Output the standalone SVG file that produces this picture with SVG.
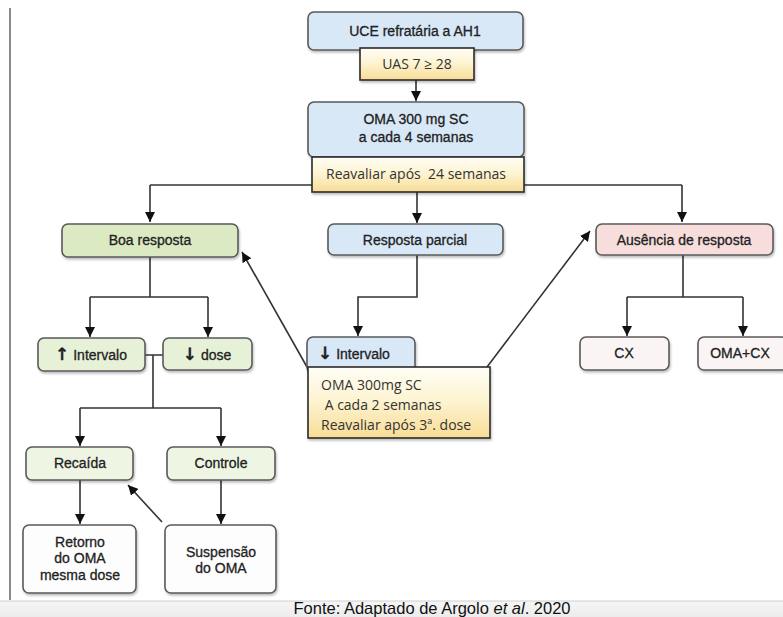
<svg xmlns="http://www.w3.org/2000/svg" width="783" height="617" viewBox="0 0 783 617">
<defs>
<marker id="ah" viewBox="0 0 10 10" refX="10" refY="5" markerWidth="10" markerHeight="10" markerUnits="userSpaceOnUse" orient="auto">
<path d="M0,0 L10,5 L0,10 z" fill="#111"/>
</marker>
<linearGradient id="yel" x1="0" y1="0" x2="0" y2="1">
<stop offset="0" stop-color="#fffef6"/>
<stop offset="0.5" stop-color="#fdf3cf"/>
<stop offset="1" stop-color="#f8dc95"/>
</linearGradient>
<linearGradient id="band" x1="0" y1="0" x2="0" y2="1">
<stop offset="0" stop-color="#f6f6f6"/>
<stop offset="1" stop-color="#ececec"/>
</linearGradient>
<filter id="sh" x="-10%" y="-10%" width="130%" height="140%">
<feDropShadow dx="1" dy="2" stdDeviation="1.2" flood-color="#000" flood-opacity="0.25"/>
</filter>
</defs>
<style>
.box{stroke:#5a5a5a;stroke-width:1.6;filter:url(#sh)}
.blue{fill:#d8e8f7}
.green{fill:#dbeac2}
.lgreen{fill:#e7f1d8}
.llgreen{fill:#eef5e3}
.pink{fill:#f7dedd}
.lpink{fill:#fbf4f4}
.white{fill:#fdfdfd}
.yb{fill:url(#yel);stroke:#2a2a2a;stroke-width:1.6;filter:url(#sh)}
.t{font-family:"Liberation Sans",Arial,sans-serif;font-size:14px;fill:#222;stroke:#222;stroke-width:0.3}
.m{text-anchor:middle}
.ar{font-family:"DejaVu Sans",sans-serif;font-size:17px;font-weight:bold}
.o{font-family:"Open Sans","Noto Sans",sans-serif;font-size:14px;fill:#333}
.c{stroke:#333;stroke-width:1.6;fill:none}
.a{marker-end:url(#ah)}
</style>
<rect x="0" y="0" width="783" height="617" fill="#ffffff"/>
<rect x="0" y="601" width="783" height="16" fill="url(#band)"/>
<line x1="0" y1="601" x2="783" y2="601" stroke="#d0d0d0" stroke-width="1"/>
<line x1="10" y1="8" x2="10" y2="600" stroke="#8a8a8a" stroke-width="2"/>
<text x="432" y="614" font-family="'Liberation Sans',Arial,sans-serif" font-size="16.5" fill="#111" text-anchor="middle">Fonte: Adaptado de Argolo <tspan font-style="italic">et al</tspan>. 2020</text>

<g id="connectors">
<path class="c a" d="M416 80 V101"/>
<path class="c" d="M150 185 H682"/>
<path class="c a" d="M150 185 V222"/>
<path class="c a" d="M682 185 V222"/>
<path class="c a" d="M417 192 V223"/>
<path class="c" d="M150 257 V297 M90 297 H208"/>
<path class="c a" d="M90 297 V337"/>
<path class="c a" d="M208 297 V337"/>
<path class="c a" d="M417 255 V297 H358 V336"/>
<path class="c" d="M683 255 V297 M627 297 H743"/>
<path class="c a" d="M627 297 V336"/>
<path class="c a" d="M743 297 V336"/>
<path class="c" d="M145 355 H163 M153 355 V408 M80 408 H221"/>
<path class="c a" d="M80 408 V446"/>
<path class="c a" d="M221 408 V446"/>
<path class="c a" d="M80 480 V524"/>
<path class="c a" d="M221 480 V524"/>
<path class="c a" d="M307 367 L242 252"/>
<path class="c a" d="M487 367 L590 231"/>
<path class="c a" d="M162 522 L128 485"/>
</g>

<g id="uce"><rect class="box blue" x="308" y="12" width="215" height="38" rx="6"/><text class="t m" x="415" y="36">UCE refratária a AH1</text></g>
<g id="uas"><rect class="yb" x="360" y="48" width="114" height="32"/><text class="o" x="417" y="69" text-anchor="middle">UAS 7 ≥ 28</text></g>
<g id="oma4"><rect class="box blue" x="308" y="102" width="216" height="55" rx="6"/><text class="t m" x="416" y="124">OMA 300 mg SC</text><text class="t m" x="416" y="142">a cada 4 semanas</text></g>
<g id="reav24"><rect class="yb" x="312" y="157" width="212" height="35"/><text class="o" x="416" y="179" text-anchor="middle" xml:space="preserve">Reavaliar após  24 semanas</text></g>

<g id="boa"><rect class="box green" x="62" y="224" width="176" height="33" rx="6"/><text class="t m" x="150" y="245">Boa resposta</text></g>
<g id="parcial"><rect class="box blue" x="328" y="224" width="175" height="31" rx="6"/><text class="t m" x="415" y="245">Resposta parcial</text></g>
<g id="ausencia"><rect class="box pink" x="596" y="224" width="177" height="31" rx="6"/><text class="t m" x="684" y="245">Ausência de resposta</text></g>

<g id="intervalo-up"><rect class="box lgreen" x="38" y="338" width="107" height="33" rx="6"/><text class="t m" x="91" y="360"><tspan class="ar">↑</tspan> Intervalo</text></g>
<g id="dose-down"><rect class="box lgreen" x="163" y="338" width="89" height="32" rx="6"/><text class="t m" x="207" y="360"><tspan class="ar">↓</tspan> dose</text></g>

<g id="intervalo-down"><rect class="box blue" x="307" y="337" width="108" height="36" rx="6"/><text class="t" x="318" y="359"><tspan class="ar">↓</tspan> Intervalo</text></g>
<g id="oma2"><rect class="yb" x="308" y="367" width="182" height="71"/>
<text class="o" x="321" y="390">OMA 300mg SC</text>
<text class="o" x="321" y="410" xml:space="preserve"> A cada 2 semanas</text>
<text class="o" x="321" y="430">Reavaliar após 3ª. dose</text></g>

<g id="cx"><rect class="box lpink" x="580" y="337" width="89" height="33" rx="6"/><text class="t m" x="624" y="358">CX</text></g>
<g id="omacx"><rect class="box lpink" x="698" y="337" width="90" height="33" rx="6"/><text class="t m" x="740" y="358">OMA+CX</text></g>

<g id="recaida"><rect class="box llgreen" x="26" y="447" width="107" height="33" rx="6"/><text class="t m" x="80" y="468">Recaída</text></g>
<g id="controle"><rect class="box llgreen" x="167" y="447" width="108" height="33" rx="6"/><text class="t m" x="221" y="468">Controle</text></g>

<g id="retorno"><rect class="box white" x="23" y="525" width="113" height="68" rx="6"/><text class="t m" x="80" y="547">Retorno</text><text class="t m" x="80" y="563">do OMA</text><text class="t m" x="80" y="580">mesma dose</text></g>
<g id="suspensao"><rect class="box white" x="165" y="525" width="111" height="68" rx="6"/><text class="t m" x="221" y="557">Suspensão</text><text class="t m" x="221" y="573">do OMA</text></g>
</svg>
